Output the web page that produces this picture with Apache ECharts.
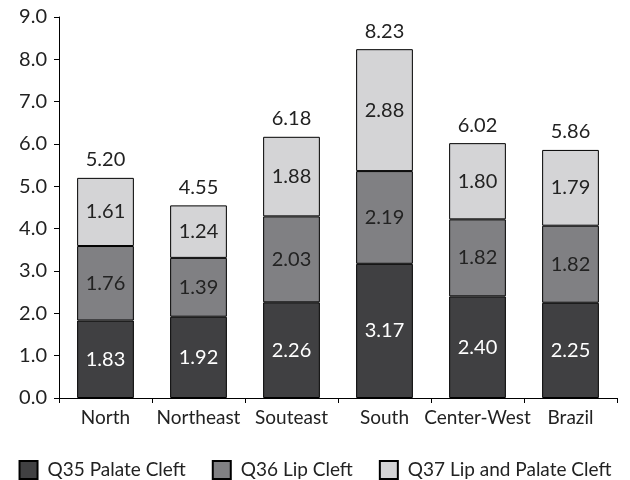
<!DOCTYPE html>
<html>
<head>
<meta charset="utf-8">
<script src="https://cdn.jsdelivr.net/npm/echarts@6/dist/echarts.min.js"></script>
<style>html,body{margin:0;padding:0;background:#fff;}#c{width:630px;height:480px;}</style>
</head>
<body>
<div id="c"></div>
<script>
const categories = ['North', 'Northeast', 'Souteast', 'South', 'Center-West', 'Brazil'];
const q35 = [1.83, 1.92, 2.26, 3.17, 2.40, 2.25];
const q36 = [1.76, 1.39, 2.03, 2.19, 1.82, 1.82];
const q37 = [1.61, 1.24, 1.88, 2.88, 1.80, 1.79];
const totals = [5.20, 4.55, 6.18, 8.23, 6.02, 5.86];
const seriesNames = ['Q35 Palate Cleft', 'Q36 Lip Cleft', 'Q37 Lip and Palate Cleft'];

const FONT = 'Lato';
const W = 'normal';
const chart = echarts.init(document.getElementById('c'), null, {renderer: 'canvas'});
function seg(name, data, color, textColor) {
  return {
    name: name, type: 'bar', stack: 'all', data: data, barWidth: '61%',
    itemStyle: {color: color, borderColor: '#000', borderWidth: 1},
    label: {show: true, position: 'inside', color: textColor, fontSize: 20, fontFamily: FONT, fontWeight: W,
      formatter: p => p.value.toFixed(2)},
    emphasis: {disabled: true}
  };
}
chart.setOption({
  animation: false,
  grid: {left: 59, right: 13, top: 17, bottom: 82, containLabel: false},
  legend: {
    data: seriesNames, top: 455, left: 'center', itemWidth: 18, itemHeight: 18, itemGap: 26,
    icon: 'rect',
    textStyle: {fontSize: 19, fontFamily: FONT, fontWeight: W, color: '#222', padding: [0, 0, 0, 5]}
  },
  xAxis: {
    type: 'category', data: categories,
    axisLine: {lineStyle: {color: '#000', width: 1}},
    axisTick: {show: true, alignWithLabel: false, length: 5, lineStyle: {color: '#000'}},
    axisLabel: {fontSize: 19, fontFamily: FONT, fontWeight: W, color: '#222', margin: 10, interval: 0}
  },
  yAxis: {
    type: 'value', min: 0, max: 9, interval: 1,
    axisLine: {show: true, lineStyle: {color: '#000', width: 1}},
    axisTick: {show: true, length: 5, lineStyle: {color: '#000'}},
    splitLine: {show: false},
    axisLabel: {fontSize: 20, fontFamily: FONT, fontWeight: W, color: '#222', margin: 12, formatter: v => v.toFixed(1)}
  },
  series: [
    seg(seriesNames[0], q35, '#404042', '#fff'),
    seg(seriesNames[1], q36, '#808083', '#222'),
    seg(seriesNames[2], q37, '#d4d4d6', '#222'),
    {
      name: 'total', type: 'bar', stack: 'all', data: totals.map(() => 0), barWidth: '61%',
      itemStyle: {color: 'transparent', borderWidth: 0},
      label: {show: true, position: 'top', distance: 8, color: '#222', fontSize: 20, fontFamily: FONT, fontWeight: W,
        formatter: p => totals[p.dataIndex].toFixed(2)},
      emphasis: {disabled: true}
    }
  ]
});
</script>
</body>
</html>
